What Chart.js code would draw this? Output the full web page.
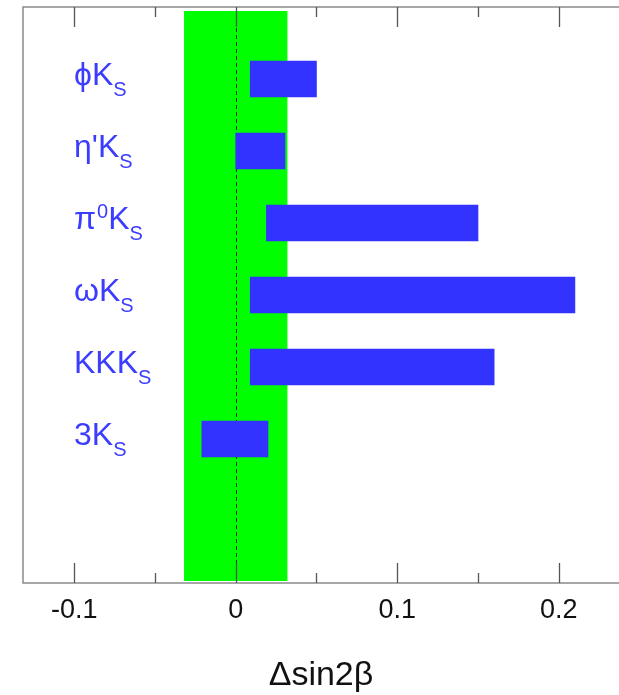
<!DOCTYPE html>
<html><head><meta charset="utf-8">
<script src="https://cdn.jsdelivr.net/npm/chart.js@4.4.0/dist/chart.umd.min.js"></script>
<style>html,body{margin:0;padding:0;background:#fff;overflow:hidden}#wrap{width:619px;height:695px;position:relative}</style>
</head><body><div id="wrap"><canvas id="c" width="619" height="695"></canvas></div>
<script>
// ---- data ----
const decayModes = ['ϕK_S', "η'K_S", 'π^0K_S', 'ωK_S', 'KKK_S', '3K_S'];
const rowPositions = [7, 6, 5, 4, 3, 2];
const deltaLow  = [0.009, 0.000, 0.019, 0.009, 0.009, -0.021];
const deltaHigh = [0.050, 0.0305, 0.150, 0.210, 0.160, 0.020];
const bandRange = [-0.032, 0.032];
const majorTicks = [-0.1, 0, 0.1, 0.2];
const minorTicks = [-0.05, 0.05, 0.15];
const axisTitle = 'Δsin2β';

const FONT = '"Liberation Sans", Arial, Helvetica, sans-serif';
const BLUE = '#3333ff';

function parseLabel(s) {
  const segs = []; let buf = '';
  for (let i = 0; i < s.length; i++) {
    const c = s[i];
    if (c === '_' || c === '^') {
      if (buf) { segs.push({t: buf, k: 'n'}); buf = ''; }
      segs.push({t: s[i + 1], k: c === '_' ? 'sub' : 'sup'}); i++;
    } else buf += c;
  }
  if (buf) segs.push({t: buf, k: 'n'});
  return segs;
}

const decor = {
  id: 'decor',
  beforeDatasetsDraw(chart) {
    const {ctx, chartArea: a, scales: {x, y}} = chart;
    ctx.save();
    ctx.fillStyle = '#00ff00';
    const x0 = x.getPixelForValue(bandRange[0]), x1 = x.getPixelForValue(bandRange[1]);
    ctx.fillRect(x0, a.top + 4, x1 - x0, a.bottom - a.top - 6);
    ctx.strokeStyle = '#222'; ctx.lineWidth = 1; ctx.setLineDash([4, 3]);
    const xz = Math.round(x.getPixelForValue(0)) + 0.5;
    ctx.beginPath(); ctx.moveTo(xz, a.top); ctx.lineTo(xz, a.bottom); ctx.stroke();
    ctx.setLineDash([]);
    ctx.restore();
  },
  afterDatasetsDraw(chart) {
    const {ctx, chartArea: a, scales: {x, y}} = chart;
    ctx.save();
    ctx.strokeStyle = '#8a8a8a'; ctx.lineWidth = 1.5;
    ctx.beginPath();
    ctx.moveTo(chart.width + 2, a.top); ctx.lineTo(a.left, a.top); ctx.lineTo(a.left, a.bottom); ctx.lineTo(chart.width + 2, a.bottom);
    ctx.stroke();
    ctx.strokeStyle = '#555'; ctx.lineWidth = 1.3;
    const tick = (v, len) => {
      const px = Math.round(x.getPixelForValue(v)) + 0.5;
      ctx.beginPath();
      ctx.moveTo(px, a.bottom); ctx.lineTo(px, a.bottom - len);
      ctx.moveTo(px, a.top); ctx.lineTo(px, a.top + len);
      ctx.stroke();
    };
    majorTicks.forEach(v => tick(v, 20));
    minorTicks.forEach(v => tick(v, 10));
    ctx.fillStyle = '#3c3cff'; ctx.textBaseline = 'alphabetic'; ctx.textAlign = 'left';
    decayModes.forEach((lab, i) => {
      let cx = a.left + 51;
      const base = y.getPixelForValue(rowPositions[i]) + 6;
      parseLabel(lab).forEach(sg => {
        if (sg.k === 'n') { ctx.font = '32px ' + FONT; ctx.fillText(sg.t, cx, base); }
        else if (sg.k === 'sub') { ctx.font = '20px ' + FONT; ctx.fillText(sg.t, cx, base + 11); }
        else { ctx.font = '20px ' + FONT; ctx.fillText(sg.t, cx + 1, base - 11); }
        cx += ctx.measureText(sg.t).width + (sg.k === 'sup' ? 1 : 0);
      });
    });
    ctx.restore();
  }
};

new Chart(document.getElementById('c'), {
  type: 'bar',
  data: {
    datasets: [{
      data: rowPositions.map((p, i) => ({y: p, x: [deltaLow[i], deltaHigh[i]]})),
      backgroundColor: BLUE,
      borderWidth: 0,
      barThickness: 36
    }]
  },
  options: {
    indexAxis: 'y',
    responsive: false,
    animation: false,
    layout: {padding: {left: 23, top: 7, right: 0, bottom: 0}},
    plugins: {legend: {display: false}, tooltip: {enabled: false}},
    scales: {
      y: {type: 'linear', min: 0, max: 8, offset: false, display: false},
      x: {
        type: 'linear', min: -0.1317, max: 0.2373,
        grid: {display: false, drawTicks: false},
        border: {display: false},
        afterBuildTicks(s) { s.ticks = majorTicks.map(v => ({value: v})); },
        afterFit(s) { s.height = 112; },
        ticks: {
          padding: 11, color: '#111',
          font: {family: FONT, size: 27},
          callback: v => String(v)
        },
        title: {
          display: true, text: axisTitle, color: '#111',
          font: {family: FONT, size: 34, lineHeight: 1},
          padding: {top: 0, bottom: 2}
        }
      }
    }
  },
  plugins: [decor]
});
</script></body></html>
